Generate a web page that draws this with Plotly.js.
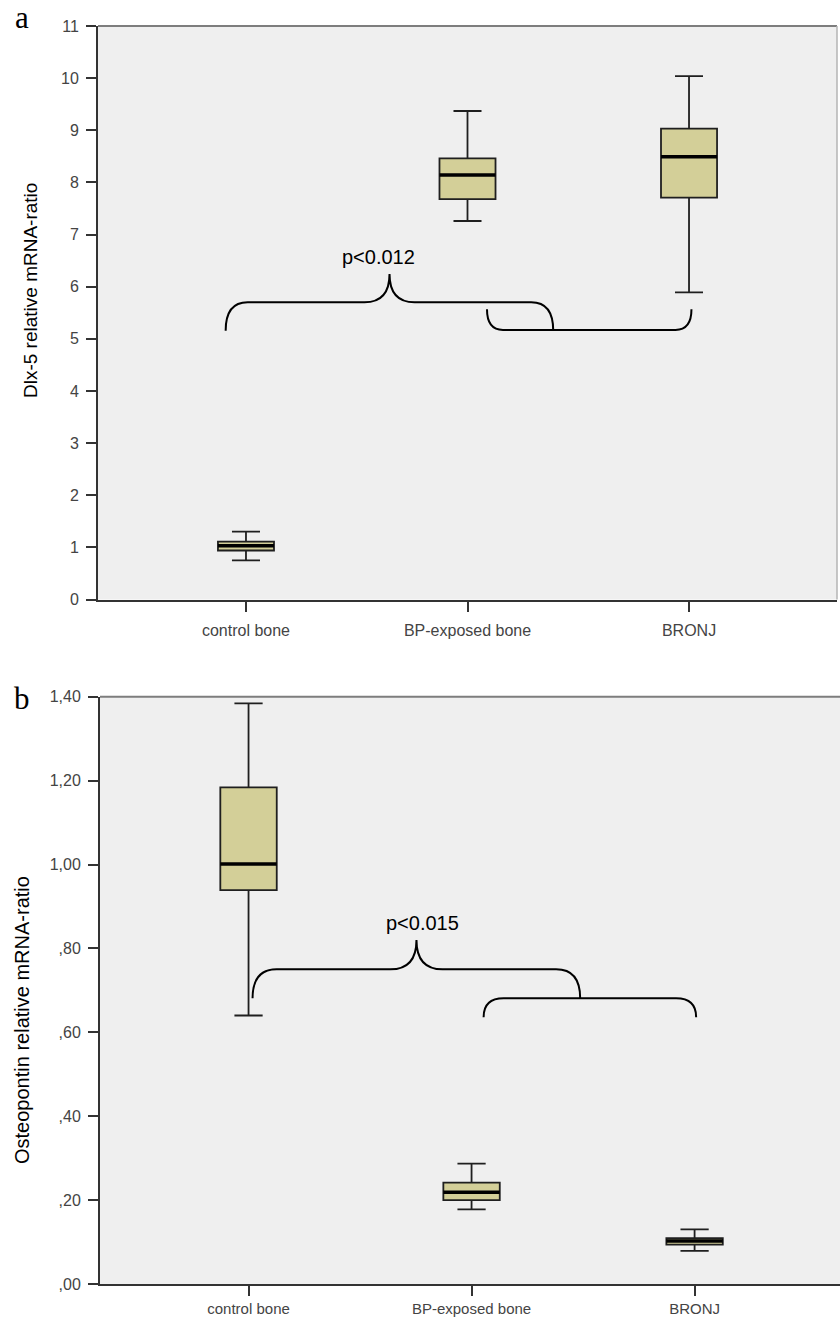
<!DOCTYPE html>
<html>
<head>
<meta charset="utf-8">
<script src="https://cdn.plot.ly/plotly-3.0.1.min.js"></script>
<style>html,body{margin:0;padding:0;background:#fff;overflow:hidden}#chart{width:840px;height:1317px}</style>
</head>
<body>
<div id="chart"></div>
<script>
// ---- data ----
const categories = ['control bone', 'BP-exposed bone', 'BRONJ'];

// panel a: Dlx-5 relative mRNA-ratio
const dlxLower  = [0.75, 7.26, 5.89];
const dlxQ1     = [0.94, 7.68, 7.71];
const dlxMedian = [1.03, 8.14, 8.49];
const dlxQ3     = [1.11, 8.46, 9.03];
const dlxUpper  = [1.30, 9.37, 10.04];
const dlxTickVals = [0,1,2,3,4,5,6,7,8,9,10,11];

// panel b: Osteopontin relative mRNA-ratio
const opnLower  = [0.64, 0.178, 0.079];
const opnQ1     = [0.939, 0.200, 0.094];
const opnMedian = [1.001, 0.219, 0.1025];
const opnQ3     = [1.184, 0.2415, 0.109];
const opnUpper  = [1.384, 0.287, 0.130];
const opnTickVals = [0, 0.2, 0.4, 0.6, 0.8, 1.0, 1.2, 1.4];
const opnTickText = [',00', ',20', ',40', ',60', ',80', '1,00', '1,20', '1,40'];

const pTextA = 'p<0.012';
const pTextB = 'p<0.015';

// ---- helpers ----
const W = 840, H = 1317;
const catPos = categories.map((c, i) => i);
const BOXW = 0.253;
const FILL = '#d3cf98';

function boxTrace(q1, med, q3, lo, hi, xa, ya) {
  return {
    type: 'box', x: catPos, q1: q1, median: med, q3: q3,
    lowerfence: lo, upperfence: hi,
    width: BOXW, whiskerwidth: 0.5, boxpoints: false,
    fillcolor: FILL, line: {color: '#1f1f1f', width: 1.8},
    xaxis: xa, yaxis: ya, showlegend: false, hoverinfo: 'skip'
  };
}
function medianTrace(med, xa, ya) {
  const xs = [], ys = [];
  catPos.forEach((c, i) => { xs.push(c - BOXW/2, c + BOXW/2, null); ys.push(med[i], med[i], null); });
  return {type: 'scatter', mode: 'lines', x: xs, y: ys, line: {color: '#000', width: 3.5},
          xaxis: xa, yaxis: ya, showlegend: false, hoverinfo: 'skip'};
}
function bracePath(xl, xr, xt, yEnd, yBar, yTip, rx, tx) {
  return `M${xl},${yEnd} Q${xl},${yBar} ${xl+rx},${yBar} L${xt-tx},${yBar} Q${xt},${yBar} ${xt},${yTip} ` +
         `Q${xt},${yBar} ${xt+tx},${yBar} L${xr-rx},${yBar} Q${xr},${yBar} ${xr},${yEnd}`;
}
function bracketPath(xl, xr, yEnd, yBar, rx) {
  return `M${xl},${yEnd} Q${xl},${yBar} ${xl+rx},${yBar} L${xr-rx},${yBar} Q${xr},${yBar} ${xr},${yEnd}`;
}

const data = [
  boxTrace(dlxQ1, dlxMedian, dlxQ3, dlxLower, dlxUpper, 'x', 'y'),
  medianTrace(dlxMedian, 'x', 'y'),
  boxTrace(opnQ1, opnMedian, opnQ3, opnLower, opnUpper, 'x2', 'y2'),
  medianTrace(opnMedian, 'x2', 'y2')
];

const tickFont = {family: 'Liberation Sans, Arial, sans-serif', size: 16, color: '#444'};
const axBase = {
  showline: true, linecolor: '#333', linewidth: 2, ticks: 'outside', ticklen: 10, tickwidth: 2,
  tickcolor: '#333', showgrid: false, zeroline: false, tickfont: tickFont, fixedrange: true,
  automargin: false
};

const braceLine = {color: '#000', width: 2};
const shapes = [
  // frames
  {type: 'line', xref: 'x domain', yref: 'y domain', x0: 0, x1: 1, y0: 1, y1: 1, line: {color: '#7d7d7d', width: 2}},
  {type: 'line', xref: 'x domain', yref: 'y domain', x0: 1, x1: 1, y0: 0, y1: 1, line: {color: '#b5b5b5', width: 1.5}},
  {type: 'line', xref: 'x2 domain', yref: 'y2 domain', x0: 0, x1: 1, y0: 1, y1: 1, line: {color: '#7d7d7d', width: 2}},
  // braces panel a
  {type: 'path', xref: 'x', yref: 'y', path: bracePath(-0.0917, 1.387, 0.648, 5.155, 5.70, 6.243, 0.0993, 0.113), line: braceLine},
  {type: 'path', xref: 'x', yref: 'y', path: bracketPath(1.088, 2.011, 5.566, 5.17, 0.072), line: braceLine},
  // braces panel b
  {type: 'path', xref: 'x2', yref: 'y2', path: bracePath(0.018, 1.487, 0.753, 0.681, 0.750, 0.820, 0.108, 0.117), line: braceLine},
  {type: 'path', xref: 'x2', yref: 'y2', path: bracketPath(1.054, 2.007, 0.636, 0.681, 0.09), line: braceLine}
];

const sans = 'Liberation Sans, Arial, sans-serif';
const annotations = [
  {text: 'a', xref: 'paper', yref: 'paper', x: 22/W, y: 1 - 18/H, showarrow: false, xanchor: 'center', yanchor: 'middle',
   font: {family: 'Liberation Serif, Times New Roman, serif', size: 31, color: '#000'}},
  {text: 'b', xref: 'paper', yref: 'paper', x: 22/W, y: 1 - 698/H, showarrow: false, xanchor: 'center', yanchor: 'middle',
   font: {family: 'Liberation Serif, Times New Roman, serif', size: 31, color: '#000'}},
  {text: 'Dlx-5 relative mRNA-ratio', xref: 'paper', yref: 'paper', x: 30/W, y: 1 - 291/H, textangle: -90,
   showarrow: false, xanchor: 'center', yanchor: 'middle', font: {family: sans, size: 19, color: '#000'}},
  {text: 'Osteopontin relative mRNA-ratio', xref: 'paper', yref: 'paper', x: 22/W, y: 1 - 1020/H, textangle: -90,
   showarrow: false, xanchor: 'center', yanchor: 'middle', font: {family: sans, size: 20, color: '#000'}},
  {text: pTextA, xref: 'x', yref: 'y', x: 0.596, y: 6.56, showarrow: false, xanchor: 'center', yanchor: 'middle',
   font: {family: sans, size: 20, color: '#000'}},
  {text: pTextB, xref: 'x2', yref: 'y2', x: 0.782, y: 0.860, showarrow: false, xanchor: 'center', yanchor: 'middle',
   font: {family: sans, size: 20, color: '#000'}}
];

const layout = {
  width: W, height: H,
  margin: {l: 0, r: 0, t: 0, b: 0, pad: 0},
  paper_bgcolor: '#ffffff', plot_bgcolor: '#efefef',
  showlegend: false,
  xaxis: Object.assign({}, axBase, {domain: [98/W, 837/W], range: [-0.668, 2.668], anchor: 'y',
    tickmode: 'array', tickvals: catPos, ticktext: categories, ticklabelstandoff: 5}),
  yaxis: Object.assign({}, axBase, {domain: [1 - 599.5/H, 1 - 26/H], range: [0, 11], anchor: 'x',
    tickmode: 'array', tickvals: dlxTickVals, ticktext: dlxTickVals.map(String), ticklabelstandoff: 4}),
  xaxis2: Object.assign({}, axBase, {domain: [100/W, 1], range: [-0.666, 2.652], anchor: 'y2',
    tickmode: 'array', tickvals: catPos, ticktext: categories, ticklabelstandoff: 0,
    tickfont: {family: 'Liberation Sans, Arial, sans-serif', size: 15, color: '#444'}}),
  yaxis2: Object.assign({}, axBase, {domain: [1 - 1284/H, 1 - 696.7/H], range: [0, 1.4], anchor: 'x2',
    tickmode: 'array', tickvals: opnTickVals, ticktext: opnTickText, ticklabelstandoff: 4}),
  shapes: shapes,
  annotations: annotations
};

Plotly.newPlot('chart', data, layout, {staticPlot: true, displayModeBar: false});
</script>
</body>
</html>
